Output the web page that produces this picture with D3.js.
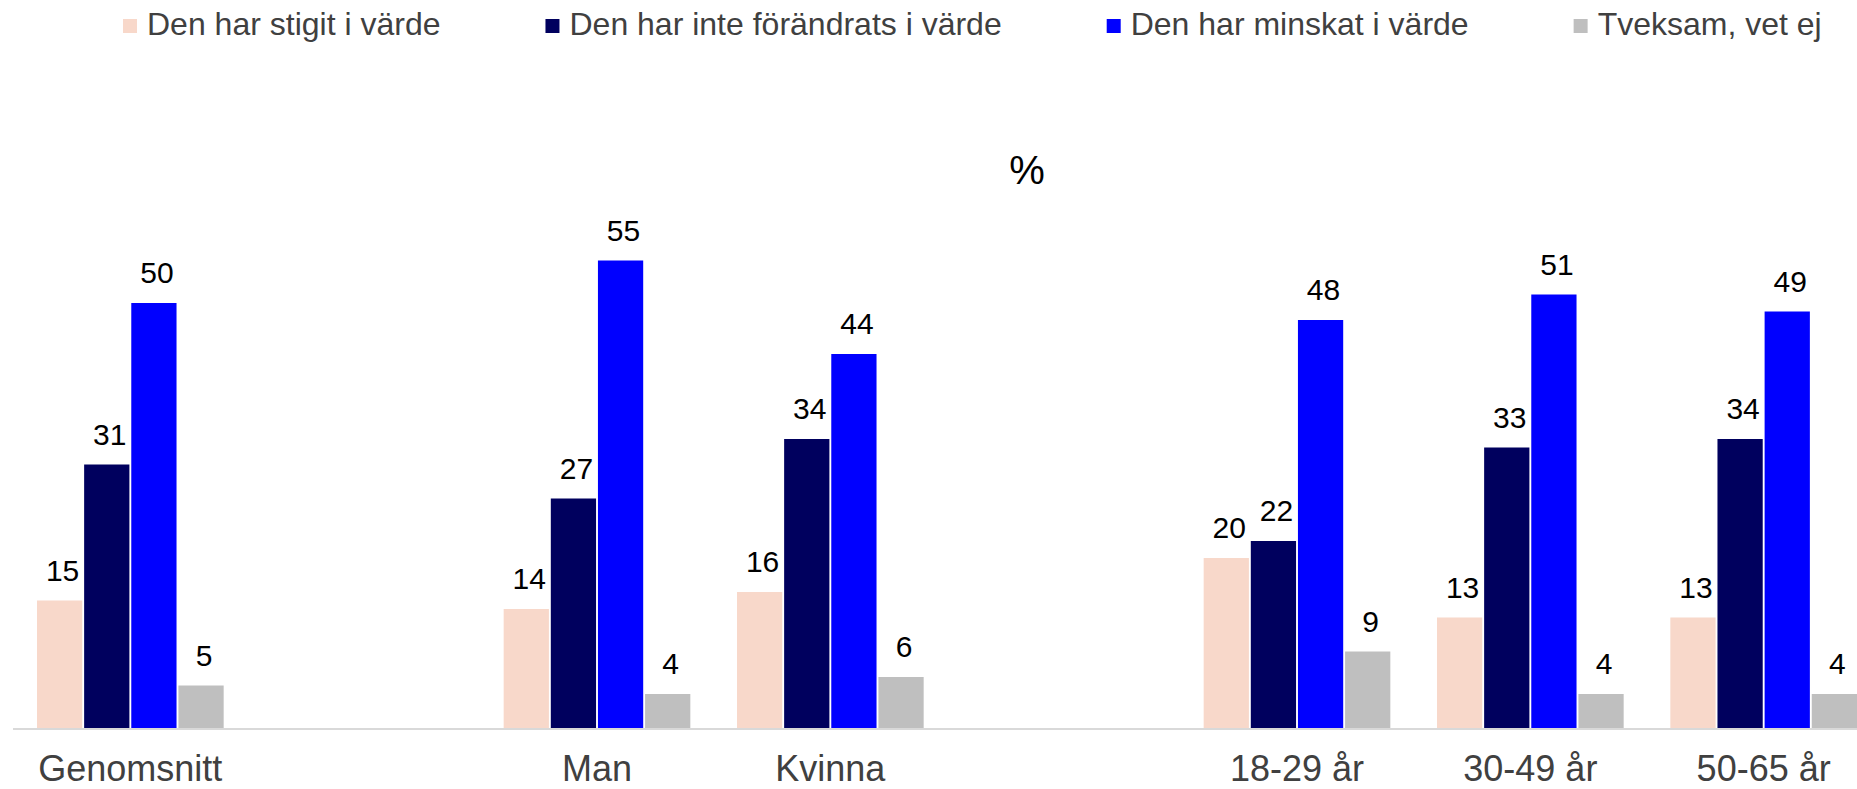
<!DOCTYPE html>
<html>
<head>
<meta charset="utf-8">
<script src="https://cdn.jsdelivr.net/npm/d3@7"></script>
<style>
  html, body { margin: 0; padding: 0; background: #fff; overflow: hidden; }
  svg { display: block; font-family: "Liberation Sans", Arial, sans-serif; }
</style>
</head>
<body>
<div id="chart"></div>
<script>
// categories and the empty slots between the groups
const categories = ["Genomsnitt", "Man", "Kvinna", "18-29 år", "30-49 år", "50-65 år"];
const slots = ["Genomsnitt", "gap1", "Man", "Kvinna", "gap2", "18-29 år", "30-49 år", "50-65 år"];

const seriesNames = ["Den har stigit i värde", "Den har inte förändrats i värde", "Den har minskat i värde", "Tveksam, vet ej"];
const seriesColors = ["#f8d8ca", "#00005e", "#0000ff", "#bfbfbf"];

const stigit   = [15, 14, 16, 20, 13, 13];
const inte     = [31, 27, 34, 22, 33, 34];
const minskat  = [50, 55, 44, 48, 51, 49];
const tveksam  = [5, 4, 6, 9, 4, 4];
const seriesValues = [stigit, inte, minskat, tveksam];

const yTitle = "%";

const width = 1857, height = 789;
const baseY = 728;

const svg = d3.select('#chart').append('svg')
  .attr('width', width).attr('height', height);

const x0 = d3.scaleBand()
  .domain(slots)
  .range([37, 1857])
  .paddingInner(0.2)
  .paddingOuter(0);

const x1 = d3.scaleBand()
  .domain(d3.range(seriesNames.length))
  .range([0, x0.bandwidth()])
  .paddingInner(0.04);

const y = d3.scaleLinear()
  .domain([0, 60])
  .range([baseY, baseY - 510]);

// baseline
svg.append('line')
  .attr('x1', 13).attr('x2', width)
  .attr('y1', baseY + 1).attr('y2', baseY + 1)
  .attr('stroke', '#d9d9d9').attr('stroke-width', 2);

// bars
const groups = svg.selectAll('g.group')
  .data(categories)
  .enter().append('g')
  .attr('class', 'group')
  .attr('transform', d => 'translate(' + x0(d) + ',0)');

groups.selectAll('rect')
  .data((d, i) => seriesValues.map((vals, s) => ({ s: s, v: vals[i] })))
  .enter().append('rect')
  .attr('x', d => x1(d.s))
  .attr('y', d => y(d.v))
  .attr('width', x1.bandwidth())
  .attr('height', d => baseY - y(d.v))
  .attr('fill', d => seriesColors[d.s]);

// value labels
groups.selectAll('text.val')
  .data((d, i) => seriesValues.map((vals, s) => ({ s: s, v: vals[i] })))
  .enter().append('text')
  .attr('class', 'val')
  .attr('x', d => x1(d.s) + x1.bandwidth() / 2 + 3)
  .attr('y', d => y(d.v) - 20)
  .attr('text-anchor', 'middle')
  .attr('font-size', '30px')
  .attr('fill', '#000')
  .text(d => d.v);

// category labels
svg.selectAll('text.cat')
  .data(categories)
  .enter().append('text')
  .attr('class', 'cat')
  .attr('x', d => x0(d) + x0.bandwidth() / 2)
  .attr('y', 781)
  .attr('text-anchor', 'middle')
  .attr('font-size', '36px')
  .attr('fill', '#404040')
  .text(d => d);

// title
svg.append('text')
  .attr('x', 1027)
  .attr('y', 184)
  .attr('text-anchor', 'middle')
  .attr('font-size', '40px')
  .attr('fill', '#000')
  .text(yTitle);

// legend
const legend = svg.append('g').attr('class', 'legend');
let lx = 123;
seriesNames.forEach((name, i) => {
  const item = legend.append('g').attr('transform', 'translate(' + lx + ',0)');
  item.append('rect')
    .attr('x', 0).attr('y', 19)
    .attr('width', 14).attr('height', 14)
    .attr('fill', seriesColors[i]);
  const t = item.append('text')
    .attr('x', 24).attr('y', 35)
    .attr('font-size', '32px')
    .attr('fill', '#404040')
    .text(name);
  lx += 24 + t.node().getComputedTextLength() + 105;
});
</script>
</body>
</html>
